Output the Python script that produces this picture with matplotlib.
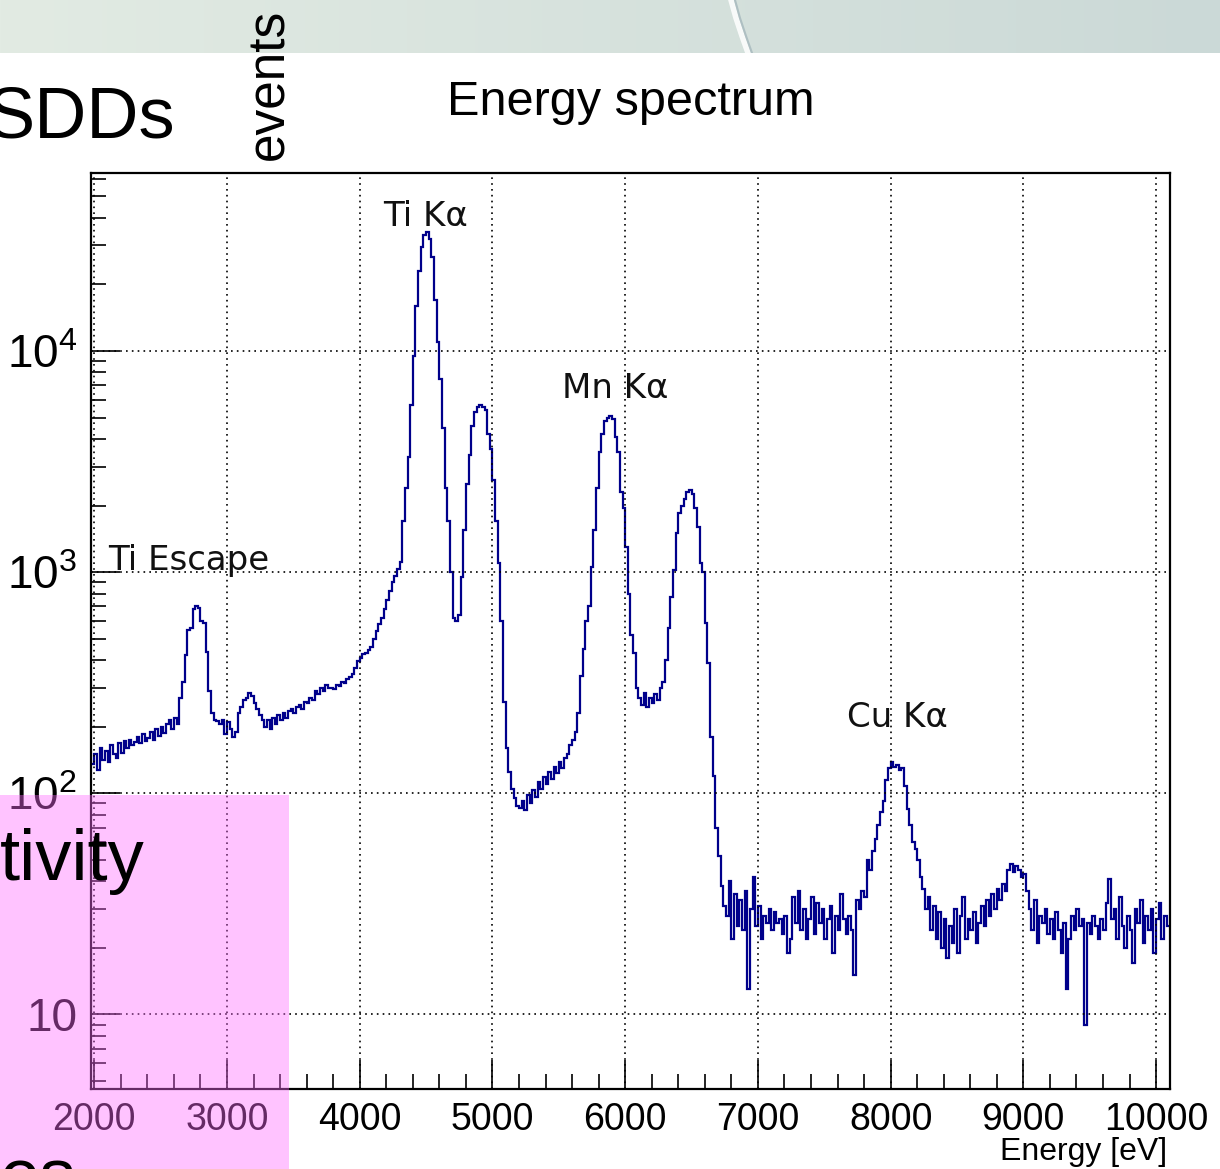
import numpy as np
import matplotlib.pyplot as plt
from matplotlib.patches import Rectangle
from matplotlib.ticker import FixedLocator, MultipleLocator, FixedFormatter, NullFormatter

plt.rcParams['mathtext.fontset'] = 'custom'
plt.rcParams['mathtext.rm'] = 'Liberation Sans'
root_font = 'Liberation Sans'

# histogram: 20 eV bins starting at 1980 eV
bin_start = 1980
bin_width = 20

counts_low = [135, 150, 128, 160, 142, 155, 138, 165, 150, 145,
              168, 152, 172, 160, 175, 165, 170, 180, 168, 185,
              172, 178, 190, 175, 195, 182, 200, 188, 205, 215,
              195, 220, 205]
counts_escape = [270, 320, 420, 550, 560, 680, 700, 690, 600, 590,
                 435, 290, 230, 215, 212, 205, 215, 185, 210, 195,
                 180, 190]
counts_bump = [230, 245, 265, 270, 285, 275, 255, 240, 225, 215,
               200, 215, 195, 220, 205, 225, 215, 230, 220, 235,
               240, 230, 245, 250, 240, 260, 255, 270, 265, 290,
               280, 300, 290, 310, 300]
counts_rise = [300, 295, 310, 305, 320, 315, 330, 335, 345, 370,
               395, 410, 425, 430, 445, 460, 500, 540, 585, 620,
               680, 750, 820, 900, 960, 1030, 1110]
counts_ti_ka = [1700, 2400, 3300, 5700, 9500, 16000, 23000, 29500, 33500, 34500,
                32000, 26500, 17000, 11000, 7500, 4500, 2400, 1700, 1000, 620,
                600, 640]
counts_ti_kb = [950, 1550, 2500, 3400, 4600, 5300, 5600, 5700, 5600, 5400,
                4200, 3600, 2600, 1700, 1100, 600, 260, 160, 125, 105]
counts_valley = [95, 88, 86, 92, 84, 98, 90, 104, 96, 112,
                 105, 118, 110, 125, 116, 132, 124, 138, 130, 145,
                 150, 165]
counts_mn_ka = [175, 190, 230, 340, 450, 600, 700, 1050, 1550, 2400,
                3500, 4200, 4800, 5000, 5100, 4900, 4100, 3500, 2300, 1950,
                1300, 800, 520, 430, 300, 270, 250, 285, 245, 270,
                255, 280, 265, 300, 320, 400, 560, 770, 1020]
counts_mn_kb = [1500, 1850, 2000, 2150, 2300, 2350, 2250, 1950, 1600, 1100,
                1000, 590, 390, 180, 120, 70, 52, 38, 31]
counts_floor1 = [28, 40, 22, 35, 25, 33, 24, 36, 13, 30,
                 42, 25, 31, 22, 28, 26, 30, 24, 29, 26,
                 27, 23, 28, 19, 22, 34, 26, 36, 24, 30,
                 22, 27, 34, 23, 32, 26, 30, 22, 27, 31,
                 19, 28, 24, 35, 27, 23, 28, 24, 15, 33,
                 30, 36, 34]
counts_cu_ka = [50, 45, 55, 62, 72, 82, 92, 115, 130, 138,
                132, 134, 128, 130, 108, 85, 72, 60, 56, 50,
                42, 37, 30]
counts_floor2 = [34, 24, 31, 22, 29, 20, 27, 18, 25, 21,
                 30, 19, 28, 34, 22, 27, 24, 29, 21, 26,
                 31, 25, 33, 28, 35, 30, 37, 33, 39, 36,
                 45, 48, 44, 47, 45, 42, 43, 36, 30]
counts_high = [24, 33, 21, 28, 26, 30, 23, 27, 22, 29,
               24, 19, 26, 13, 22, 28, 24, 30, 25, 27,
               9, 26, 23, 28, 25, 22, 27, 24, 32, 41,
               27, 30, 22, 34, 25, 20, 28, 24, 17, 30,
               26, 33, 21, 28, 24, 30, 19, 27, 32, 22,
               28, 25]

counts = np.array(counts_low + counts_escape + counts_bump + counts_rise +
                  counts_ti_ka + counts_ti_kb + counts_valley + counts_mn_ka +
                  counts_mn_kb + counts_floor1 + counts_cu_ka + counts_floor2 +
                  counts_high, dtype=float)
edges = bin_start + bin_width * np.arange(len(counts) + 1)

x_major = [2000, 3000, 4000, 5000, 6000, 7000, 8000, 9000, 10000]
y_major = [10, 100, 1000, 10000]
y_labels = ['10', r'$10^{2}$', r'$10^{3}$', r'$10^{4}$']

W, H = 1220, 1169
fig = plt.figure(figsize=(W / 100, H / 100), dpi=100)
fig.patch.set_facecolor('white')

# slide background band at the top
bg = fig.add_axes([0, 1 - 53 / H, 1, 53 / H], zorder=-1)
c_left = np.array([226, 235, 227]) / 255
c_right = np.array([203, 217, 215]) / 255
t = np.linspace(0, 1, W)[None, :, None]
band = np.repeat(c_left * (1 - t) + c_right * t, 53, axis=0)
bg.imshow(band, aspect='auto', extent=[0, W, 53, 0])
bg.plot([731, 736, 742, 748], [0, 18, 36, 53], color='white', lw=4, alpha=0.85)
bg.plot([735, 740, 746, 752], [0, 18, 36, 53], color='#aebfc2', lw=1.5)
bg.set_xlim(0, W)
bg.set_ylim(53, 0)
bg.axis('off')

ax = fig.add_axes([91 / W, 1 - 1089 / H, (1170 - 91) / W, (1089 - 173) / H])
ax.stairs(counts, edges, baseline=None, color='#00008b', lw=1.6)
ax.set_yscale('log')
ax.set_xlim(1975, 10105)
ax.set_ylim(4.6, 63800)

ax.xaxis.set_major_locator(FixedLocator(x_major))
ax.xaxis.set_minor_locator(MultipleLocator(200))
ax.yaxis.set_major_locator(FixedLocator(y_major))
ax.yaxis.set_major_formatter(FixedFormatter(y_labels))
minors = [m * 10 ** d for d in range(0, 5) for m in range(2, 10)]
ax.yaxis.set_minor_locator(FixedLocator(minors))
ax.yaxis.set_minor_formatter(NullFormatter())

ax.grid(True, which='major', color='black', ls=(0, (1, 2.5)), lw=1.2)
ax.tick_params(which='both', direction='in', top=False, right=False, width=1.2)
ax.tick_params(which='major', length=21)
ax.tick_params(which='minor', length=11)
ax.tick_params(axis='x', labelsize=27, pad=9)
ax.tick_params(axis='y', labelsize=33, pad=10)
for lab in ax.get_xticklabels() + ax.get_yticklabels():
    lab.set_family(root_font)
for sp in ax.spines.values():
    sp.set_linewidth(1.6)

lab_kw = dict(fontsize=24.5, family='DejaVu Sans', ha='left', va='baseline', color='#111111')
ax.text(4175, 36800, 'Ti K\u03b1', **lab_kw)
ax.text(5525, 6120, 'Mn K\u03b1', **lab_kw)
ax.text(2103, 1020, 'Ti Escape', **lab_kw)
ax.text(7672, 199, 'Cu K\u03b1', **lab_kw)

fig.text(631 / W, 1 - 115 / H, 'Energy spectrum', ha='center', va='baseline',
         fontsize=35, family=root_font)
fig.text(1167 / W, 1 - 1160 / H, 'Energy [eV]', ha='right', va='baseline',
         fontsize=23, family=root_font)

# slide overlays
fig.add_artist(Rectangle((0, 0), 289 / W, (H - 795) / H, transform=fig.transFigure,
                         facecolor=(1, 0.42, 1), edgecolor='none', alpha=0.4, zorder=5))
fig.text(175 / W, 1 - 138 / H, 'SDDs', ha='right', va='baseline', fontsize=52,
         family='Liberation Sans', zorder=6)
fig.text(145 / W, 1 - 880 / H, 'tivity', ha='right', va='baseline', fontsize=52,
         family='Liberation Sans', zorder=6)
fig.text(0, 1 - 1200 / H, 'es', ha='left', va='baseline', fontsize=52,
         family='Liberation Sans', zorder=6)
fig.text(270 / W, 1 - 84 / H, 'events', rotation=90, ha='center', va='center',
         fontsize=37, family='Liberation Sans', zorder=6)

fig.savefig('out.png', dpi=100)
